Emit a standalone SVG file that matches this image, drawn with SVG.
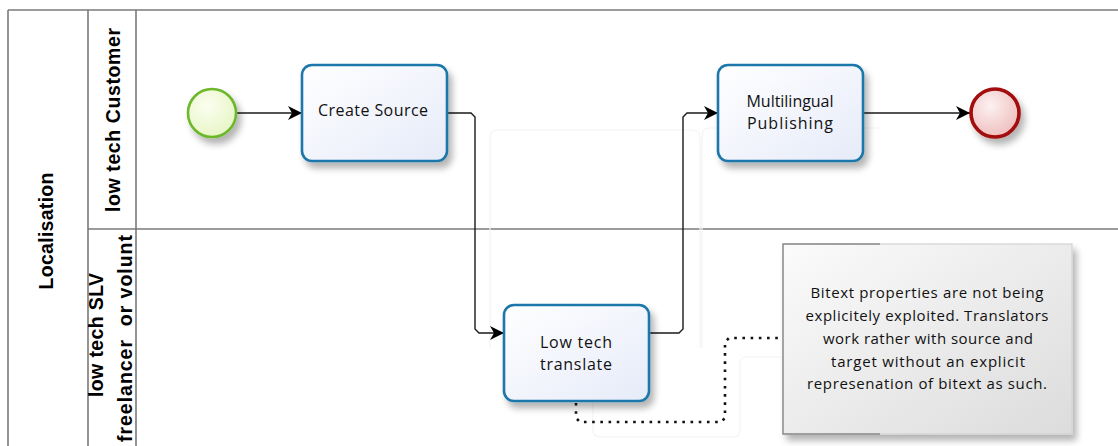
<svg xmlns="http://www.w3.org/2000/svg" width="1118" height="446" viewBox="0 0 1118 446">
<style>
.pool{stroke:#7a7a7a;stroke-width:1.6;fill:none}
.halo{fill:none;stroke:#f3f3f3;stroke-width:1.2}
.task{fill:url(#taskGrad);stroke:#1f77aa;stroke-width:2.6}
.flow{fill:none;stroke:#1a1a1a;stroke-width:1.4}
.assoc{fill:none;stroke:#111;stroke-width:2.6;stroke-dasharray:2.6,5.6}
.lbl{font-family:"Liberation Sans",Arial,sans-serif;font-weight:bold;font-size:19.5px;fill:#000;text-anchor:middle}
.tt{font-family:"Open Sans","DejaVu Sans",sans-serif;font-size:16px;fill:#111;text-anchor:middle}
.nt{font-family:"Open Sans","DejaVu Sans",sans-serif;font-size:15px;fill:#111;text-anchor:middle}
</style>
<defs>
<linearGradient id="taskGrad" x1="0" y1="0" x2="1" y2="1">
<stop offset="0" stop-color="#ffffff"/>
<stop offset="1" stop-color="#e6ebf9"/>
</linearGradient>
<radialGradient id="startGrad" cx="0.4" cy="0.35" r="0.7">
<stop offset="0" stop-color="#fbfef0"/>
<stop offset="1" stop-color="#e7f5c4"/>
</radialGradient>
<radialGradient id="endGrad" cx="0.4" cy="0.35" r="0.7">
<stop offset="0" stop-color="#fdf1f1"/>
<stop offset="1" stop-color="#eebcbc"/>
</radialGradient>
<linearGradient id="noteGrad" x1="0" y1="0" x2="1" y2="1">
<stop offset="0" stop-color="#fbfbfb"/>
<stop offset="1" stop-color="#dcdcdc"/>
</linearGradient>
<filter id="shadow" x="-20%" y="-20%" width="150%" height="160%">
<feGaussianBlur in="SourceAlpha" stdDeviation="3.5"/>
<feOffset dx="4" dy="6" result="b"/>
<feComponentTransfer><feFuncA type="linear" slope="0.3"/></feComponentTransfer>
<feMerge><feMergeNode/><feMergeNode in="SourceGraphic"/></feMerge>
</filter>
<marker id="arrow" markerUnits="userSpaceOnUse" markerWidth="15" markerHeight="14" refX="14" refY="7" orient="auto">
<path d="M0,0 L14,7 L0,14 L4,7 Z" fill="#000"/>
</marker>
<clipPath id="lane2clip"><rect x="88" y="230" width="48" height="216"/></clipPath>
</defs>
<rect width="1118" height="446" fill="#ffffff"/>

<g id="pool">
<line class="pool" x1="8" y1="10" x2="1118" y2="10"/>
<line class="pool" x1="8" y1="10" x2="8" y2="446"/>
<line class="pool" x1="88" y1="10" x2="88" y2="446"/>
<line class="pool" x1="136" y1="10" x2="136" y2="446"/>
<line class="pool" x1="88" y1="229" x2="1118" y2="229"/>
<text class="lbl" transform="translate(53,231) rotate(-90)" textLength="117">Localisation</text>
</g>

<g id="lane-customer">
<text class="lbl" transform="translate(120,120) rotate(-90)" textLength="184">low tech Customer</text>
</g>

<g id="lane-slv" clip-path="url(#lane2clip)">
<text class="lbl" transform="translate(103,335) rotate(-90)" textLength="124">low tech SLV</text>
<text class="lbl" transform="translate(132,338.5) rotate(-90)" textLength="207" xml:space="preserve">freelancer  or volunt</text>
</g>

<g id="halos">
<path class="halo" d="M700,348 V138 Q700,130 692,130 H498 Q490,130 490,138 V348"/>
<path class="halo" d="M702,348 V136 Q702,128 710,128 H880"/>
<path class="halo" d="M593,400 V430 Q593,437 600,437 H733 Q740,437 740,430 V364 Q740,357 747,357 H783"/>
</g>

<g id="connectors">
<path class="flow" d="M237,113 H302" marker-end="url(#arrow)"/>
<path class="flow" d="M447,113 H471 L475,117 V329 L479,333 H504" marker-end="url(#arrow)"/>
<path class="flow" d="M649,333 H679 L683,329 V117 L687,113 H718" marker-end="url(#arrow)"/>
<path class="flow" d="M863,113 H970" marker-end="url(#arrow)"/>
<path class="assoc" d="M576,403 V418 L580,422 H721 L725,418 V342 L729,338 H783"/>
</g>

<g id="start-event">
<circle cx="212" cy="113" r="24" fill="url(#startGrad)" stroke="#6cb82a" stroke-width="2.6" filter="url(#shadow)"/>
</g>

<g id="task-create-source">
<rect class="task" x="302" y="65" width="145" height="96" rx="10" filter="url(#shadow)"/>
<text class="tt" x="373" y="116" textLength="110">Create Source</text>
</g>

<g id="task-multilingual">
<rect class="task" x="718" y="65" width="145" height="96" rx="10" filter="url(#shadow)"/>
<text class="tt" x="790" y="107" textLength="87">Multilingual</text>
<text class="tt" x="790" y="129" textLength="86">Publishing</text>
</g>

<g id="end-event">
<circle cx="995" cy="113" r="24" fill="url(#endGrad)" stroke="#a30a0a" stroke-width="3.6" filter="url(#shadow)"/>
</g>

<g id="task-low-tech">
<rect class="task" x="504" y="305" width="145" height="96" rx="10" filter="url(#shadow)"/>
<text class="tt" x="576" y="348" textLength="72">Low tech</text>
<text class="tt" x="576" y="370" textLength="72">translate</text>
</g>

<g id="annotation">
<rect x="783" y="244" width="289" height="190" fill="url(#noteGrad)" stroke="#d2d2d2" stroke-width="1.2" filter="url(#shadow)"/>
<path d="M880,244 H783 V434 H880" fill="none" stroke="#8a8a8a" stroke-width="1.4"/>
<text class="nt" x="927" y="298" textLength="233">Bitext properties are not being</text>
<text class="nt" x="927" y="321" textLength="243">explicitely exploited. Translators</text>
<text class="nt" x="928" y="344" textLength="210">work rather with source and</text>
<text class="nt" x="928" y="367" textLength="194">target without an explicit</text>
<text class="nt" x="927" y="389" textLength="240">represenation of bitext as such.</text>
</g>
</svg>
